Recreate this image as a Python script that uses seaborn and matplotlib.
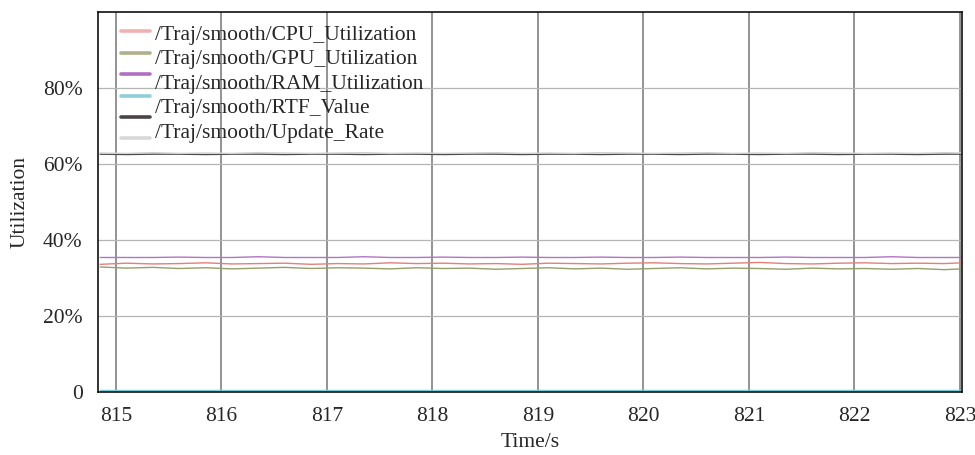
import matplotlib
matplotlib.use('Agg')
import matplotlib.pyplot as plt
import matplotlib.ticker as ticker
from matplotlib.lines import Line2D
import pandas as pd
import seaborn as sns

# time stamps (s)
time_s = [814.85, 815.10, 815.35, 815.60, 815.85, 816.10, 816.35, 816.60, 816.85,
          817.10, 817.35, 817.60, 817.85, 818.10, 818.35, 818.60, 818.85, 819.10,
          819.35, 819.60, 819.85, 820.10, 820.35, 820.60, 820.85, 821.10, 821.35,
          821.60, 821.85, 822.10, 822.35, 822.60, 822.85, 823.02]

# utilization values (%)
cpu = [33.6, 33.9, 33.7, 33.8, 34.0, 33.7, 33.8, 33.9, 33.6, 33.8, 33.7, 34.0,
       33.8, 33.9, 33.7, 33.8, 33.6, 33.9, 33.8, 33.7, 33.9, 34.0, 33.8, 33.7,
       33.9, 34.1, 33.8, 33.7, 33.9, 34.0, 33.8, 33.9, 33.8, 34.0]
gpu = [32.9, 32.6, 32.8, 32.5, 32.7, 32.4, 32.6, 32.8, 32.5, 32.7, 32.6, 32.4,
       32.7, 32.5, 32.6, 32.3, 32.5, 32.7, 32.4, 32.6, 32.3, 32.5, 32.7, 32.4,
       32.6, 32.5, 32.3, 32.6, 32.4, 32.5, 32.3, 32.5, 32.2, 32.4]
ram = [35.4, 35.4, 35.4, 35.5, 35.4, 35.4, 35.6, 35.4, 35.4, 35.4, 35.6, 35.4,
       35.4, 35.5, 35.4, 35.4, 35.5, 35.4, 35.4, 35.5, 35.4, 35.4, 35.5, 35.4,
       35.4, 35.4, 35.5, 35.4, 35.4, 35.4, 35.6, 35.4, 35.4, 35.4]
rtf = [0.6, 0.6, 0.6, 0.6, 0.6, 0.6, 0.6, 0.6, 0.6, 0.6, 0.6, 0.6,
       0.6, 0.6, 0.6, 0.6, 0.6, 0.6, 0.6, 0.6, 0.6, 0.6, 0.6, 0.6,
       0.6, 0.6, 0.6, 0.6, 0.6, 0.6, 0.6, 0.6, 0.6, 0.6]
update_rate = [62.6, 62.5, 62.6, 62.6, 62.5, 62.6, 62.6, 62.5, 62.6, 62.6, 62.5, 62.6,
               62.6, 62.5, 62.6, 62.6, 62.5, 62.6, 62.6, 62.5, 62.6, 62.6, 62.5, 62.6,
               62.6, 62.5, 62.6, 62.6, 62.5, 62.6, 62.6, 62.5, 62.6, 62.6]
update_raw = [62.9, 62.8, 63.0, 62.8, 62.9, 62.8, 63.0, 62.9, 62.8, 62.9, 63.0, 62.8,
              62.9, 62.8, 62.9, 63.0, 62.8, 62.9, 62.8, 63.0, 62.9, 62.8, 62.9, 63.0,
              62.8, 62.9, 62.8, 63.0, 62.9, 62.8, 62.9, 62.8, 63.0, 62.9]

series_names = ['cpu', 'gpu', 'ram', 'rtf', 'update', 'update_raw']
series_values = [cpu, gpu, ram, rtf, update_rate, update_raw]
legend_labels = ['/Traj/smooth/CPU_Utilization', '/Traj/smooth/GPU_Utilization',
                 '/Traj/smooth/RAM_Utilization', '/Traj/smooth/RTF_Value',
                 '/Traj/smooth/Update_Rate']
line_colors = ['#e57f7c', '#95a06a', '#b274c4', '#78c9d3', '#4a4a4a', '#d2d2d2']
swatch_colors = ['#f4b0b0', '#b0b08a', '#b070c0', '#8ccfd8', '#4a4444', '#d8d8d8']
x_ticks = [815, 816, 817, 818, 819, 820, 821, 822, 823]
y_ticks = [0, 20, 40, 60, 80]

rows = []
for name, vals in zip(series_names, series_values):
    for t, v in zip(time_s, vals):
        rows.append({'time': t, 'value': v, 'series': name})
df = pd.DataFrame(rows)

sns.set_style('white')
plt.rcParams['font.family'] = ['Liberation Serif', 'DejaVu Serif']
fs = 15.5

fig = plt.figure(figsize=(9.75, 4.55), dpi=100)
ax = fig.add_axes([0.1005, 0.1385, 0.8862, 0.835])

sns.lineplot(data=df, x='time', y='value', hue='series', hue_order=series_names,
             palette=dict(zip(series_names, line_colors)), linewidth=1.0,
             legend=False, ax=ax)

ax.set_xlim(814.83, 823.02)
ax.set_ylim(0, 100)
ax.set_xticks(x_ticks)
ax.set_yticks(y_ticks)
ax.yaxis.set_major_formatter(
    ticker.FuncFormatter(lambda v, pos: '0' if v == 0 else '{:.0f}%'.format(v)))
ax.xaxis.grid(True, color='#8a8a8a', linewidth=1.3)
ax.yaxis.grid(True, color='#b5b5b5', linewidth=0.9)
ax.set_axisbelow(True)
for sp in ax.spines.values():
    sp.set_color('#111111')
    sp.set_linewidth(1.2)
ax.tick_params(axis='x', direction='in', length=4, labelsize=fs, pad=11, color='#333333')
ax.tick_params(axis='y', direction='out', length=4, labelsize=fs, pad=7, color='#333333')
ax.set_xlabel('Time/s', fontsize=fs, labelpad=5)
ax.set_ylabel('Utilization', fontsize=fs, labelpad=10)

# colour swatches and label texts sit on slightly different rows in the source
swatches = [Line2D([], [], color=c, linewidth=2.6) for c in swatch_colors]
leg1 = ax.legend(swatches, [''] * len(swatches), loc='upper left',
                 bbox_to_anchor=(0.012, 0.997), frameon=False, handlelength=1.7,
                 labelspacing=0.3, fontsize=12.5, borderaxespad=0.3)
ax.add_artist(leg1)
blanks = [Line2D([], [], color='none') for _ in legend_labels]
ax.legend(blanks, legend_labels, loc='upper left', bbox_to_anchor=(0.049, 1.007),
          frameon=False, handlelength=0, handletextpad=0, labelspacing=0.21,
          fontsize=fs, borderaxespad=0.3)

fig.savefig('out.png', dpi=100)
plt.close(fig)
